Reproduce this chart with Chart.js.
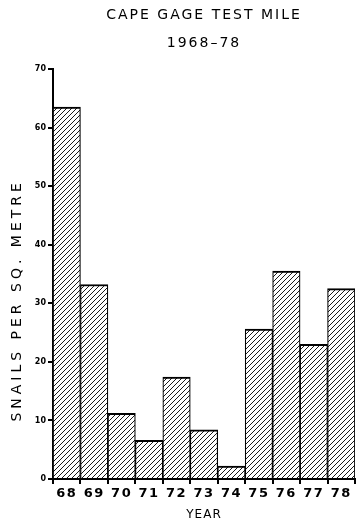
<!DOCTYPE html>
<html><head><meta charset="utf-8">
<script src="https://cdn.jsdelivr.net/npm/chart.js@4"></script>
<style>html,body{margin:0;padding:0;background:#fff}#wrap{width:363px;height:522px}</style>
</head><body><div id="wrap"><canvas id="c" width="363" height="522"></canvas></div>
<script>
const years = ['68','69','70','71','72','73','74','75','76','77','78'];
const snails = [63.5, 33.2, 11.2, 6.6, 17.4, 8.4, 2.2, 25.6, 35.5, 23.0, 32.5];
const yTicks = [0, 10, 20, 30, 40, 50, 60, 70];
const titleLines = ['CAPE GAGE TEST MILE', '1968\u201378'];
const yTitle = 'SNAILS PER SQ. METRE';
const xTitle = 'YEAR';

function hatch() {
  const s = 5;
  const p = document.createElement('canvas');
  p.width = s; p.height = s;
  const g = p.getContext('2d');
  g.fillStyle = '#fff'; g.fillRect(0, 0, s, s);
  g.strokeStyle = '#000'; g.lineWidth = 0.9;
  g.beginPath();
  g.moveTo(0, s); g.lineTo(s, 0);
  g.moveTo(-1, 1); g.lineTo(1, -1);
  g.moveTo(s - 1, s + 1); g.lineTo(s + 1, s - 1);
  g.stroke();
  return document.getElementById('c').getContext('2d').createPattern(p, 'repeat');
}

// per-text letter spacing
const spacingFor = (t, font) => {
  if (t === yTitle) return '4px';
  if (titleLines.includes(t)) return '2px';
  if (years.includes(t) && font.indexOf('13px') >= 0) return '1.5px';
  if (t === xTitle) return '1px';
  return '0px';
};
const spacing = {
  id: 'spacing',
  beforeInit(chart) {
    const ctx = chart.ctx;
    const orig = ctx.fillText.bind(ctx);
    ctx.fillText = function (t, x, y, mw) {
      const prev = ctx.letterSpacing;
      ctx.letterSpacing = spacingFor(String(t), ctx.font);
      if (mw === undefined) orig(t, x, y); else orig(t, x, y, mw);
      ctx.letterSpacing = prev;
    };
  },
  afterDraw(chart) {
    // y-axis title, placed as in the reference
    const ctx = chart.ctx;
    const yScale = chart.scales.y;
    ctx.save();
    ctx.translate(17, yScale.getPixelForValue(30.5));
    ctx.rotate(-Math.PI / 2);
    ctx.font = '14px "DejaVu Sans"';
    ctx.fillStyle = '#000';
    ctx.textAlign = 'center';
    ctx.textBaseline = 'middle';
    ctx.fillText(yTitle, 0, 0);
    ctx.restore();
  }
};

new Chart(document.getElementById('c'), {
  type: 'bar',
  data: {
    labels: years,
    datasets: [{
      data: snails,
      backgroundColor: hatch(),
      borderColor: '#000',
      borderWidth: {top: 2, left: 1.2, right: 1.2, bottom: 0},
      borderSkipped: false,
      barPercentage: 1,
      categoryPercentage: 1
    }]
  },
  options: {
    responsive: false,
    animation: false,
    devicePixelRatio: 1,
    layout: {padding: {left: 0, right: 8, top: 0, bottom: 0}},
    plugins: {
      legend: {display: false},
      tooltip: {enabled: false},
      title: {
        display: true,
        fullSize: false,
        text: titleLines,
        color: '#000',
        font: {family: 'DejaVu Sans', size: 14, weight: 'normal', lineHeight: 2},
        padding: {top: 1, bottom: 12}
      }
    },
    scales: {
      x: {
        offset: true,
        grid: {display: true, offset: true, drawOnChartArea: false, drawTicks: true, tickLength: 5, color: '#000', lineWidth: 2},
        border: {display: true, color: '#000', width: 2},
        ticks: {color: '#000', font: {family: 'DejaVu Sans', size: 13, weight: 'bold'}, padding: 2, maxRotation: 0},
        title: {display: true, text: xTitle, color: '#000', font: {family: 'DejaVu Sans', size: 12}, padding: {top: 1, bottom: 0}},
        afterFit(s) { s.height = 43; }
      },
      y: {
        min: 0, max: 70,
        afterBuildTicks(s) { s.ticks = yTicks.map(v => ({value: v})); },
        grid: {display: true, drawOnChartArea: false, drawTicks: true, tickLength: 5, color: '#000', lineWidth: 2},
        border: {display: true, color: '#000', width: 2},
        ticks: {color: '#000', font: {family: 'DejaVu Sans', size: 8, weight: 'bold'}, padding: 2},
        title: {display: false, text: yTitle},
        afterFit(s) { s.width = 53; }
      }
    }
  },
  plugins: [spacing]
});
</script>
</body></html>
